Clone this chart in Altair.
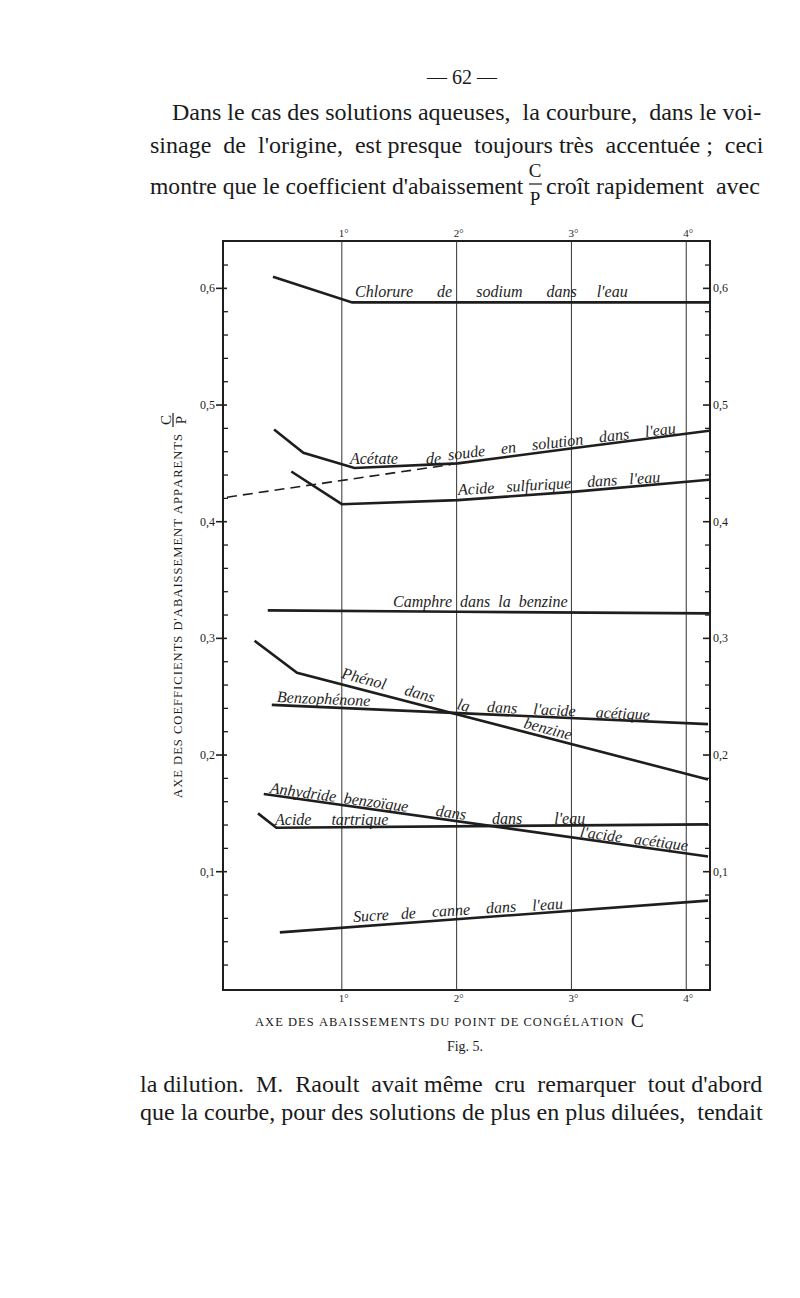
import altair as alt
import pandas as pd

# ---------------- data ----------------
chlorure_x = [0.40, 1.09, 4.20]
chlorure_y = [0.610, 0.588, 0.588]
acetate_x = [0.41, 0.665, 1.11, 2.01, 3.01, 4.20]
acetate_y = [0.479, 0.459, 0.446, 0.450, 0.463, 0.478]
acetate_dash_x = [0.00, 1.95]
acetate_dash_y = [0.421, 0.449]
sulfurique_x = [0.56, 1.00, 2.01, 3.01, 4.20]
sulfurique_y = [0.443, 0.415, 0.4185, 0.4256, 0.436]
camphre_x = [0.355, 2.00, 4.20]
camphre_y = [0.324, 0.3228, 0.3214]
phenol_x = [0.24, 0.61, 4.19]
phenol_y = [0.298, 0.2705, 0.179]
benzophenone_x = [0.39, 4.19]
benzophenone_y = [0.243, 0.2265]
anhydride_x = [0.32, 4.19]
anhydride_y = [0.1666, 0.113]
tartrique_x = [0.27, 0.43, 4.19]
tartrique_y = [0.150, 0.1377, 0.1406]
sucre_x = [0.46, 4.19]
sucre_y = [0.048, 0.0752]

grid_degrees = [1, 2, 3, 4]
degree_labels = ["1°", "2°", "3°", "4°"]
major_ticks = [0.1, 0.2, 0.3, 0.4, 0.5, 0.6]
major_labels = ["0,1", "0,2", "0,3", "0,4", "0,5", "0,6"]
minor_ticks = [0.02, 0.04, 0.06, 0.08, 0.12, 0.14, 0.16, 0.18, 0.22, 0.24,
               0.26, 0.28, 0.32, 0.34, 0.36, 0.38, 0.42, 0.44, 0.46, 0.48,
               0.52, 0.54, 0.56, 0.58, 0.62]

def gap(n):
    return "\u00a0" * n

curve_labels = [
    "Chlorure" + gap(6) + "de" + gap(6) + "sodium" + gap(6) + "dans" + gap(5) + "l'eau",
    "Acétate" + gap(7) + "de",
    "soude" + gap(4) + "en" + gap(4) + "solution" + gap(4) + "dans" + gap(4) + "l'eau",
    "Acide" + gap(3) + "sulfurique" + gap(4) + "dans" + gap(3) + "l'eau",
    "Camphre" + gap(2) + "dans" + gap(2) + "la" + gap(2) + "benzine",
    "Phénol" + gap(5) + "dans" + gap(6) + "la",
    "benzine",
    "Benzophénone",
    "dans" + gap(4) + "l'acide" + gap(5) + "acétique",
    "Anhydride" + gap(2) + "benzoïque" + gap(7) + "dans",
    "l'acide" + gap(3) + "acétique",
    "Acide" + gap(5) + "tartrique",
    "dans" + gap(8) + "l'eau",
    "Sucre" + gap(3) + "de" + gap(4) + "canne" + gap(4) + "dans" + gap(4) + "l'eau",
]
# annotation layout (label anchor in data units, rotation)
label_x = [1.115, 1.071, 1.925, 2.012, 1.446, 1.002, 2.796, 0.436, 2.265, 0.375, 3.075, 0.418, 2.308, 1.098]
label_y = [0.597, 0.4534, 0.457, 0.4271, 0.331, 0.2703, 0.2223, 0.2497, 0.2411, 0.1717, 0.1341, 0.1443, 0.1452, 0.0612]
label_angle = [0, 0, 353.3, 356.4, 0, 15, 15, 2.5, 2.8, 7.8, 7.4, 0, 0, 356.4]
label_align = ["left", "left", "left", "left", "left", "left", "center", "left", "left", "left", "left", "left", "left", "left"]

# ---------------- tables ----------------
series = [
    ("chlorure", chlorure_x, chlorure_y),
    ("acetate", acetate_x, acetate_y),
    ("sulfurique", sulfurique_x, sulfurique_y),
    ("camphre", camphre_x, camphre_y),
    ("phenol", phenol_x, phenol_y),
    ("benzophenone", benzophenone_x, benzophenone_y),
    ("anhydride", anhydride_x, anhydride_y),
    ("tartrique", tartrique_x, tartrique_y),
    ("sucre", sucre_x, sucre_y),
]
rows = []
for name, xs, ys in series:
    for i, (xv, yv) in enumerate(zip(xs, ys)):
        rows.append({"series": name, "order": i, "x": xv, "y": yv})
df_lines = pd.DataFrame(rows)
df_dash = pd.DataFrame({"x": acetate_dash_x, "y": acetate_dash_y, "order": list(range(len(acetate_dash_x)))})
df_grid = pd.DataFrame({"x": grid_degrees, "label": degree_labels})
df_major = pd.DataFrame({"v": major_ticks, "label": major_labels})
df_minor = pd.DataFrame({"v": minor_ticks})
dummy = pd.DataFrame({"d": [0]})

W, H = 487, 749
INK = "#1e1e1e"
SERIF = "Liberation Serif"

xs_ = alt.Scale(domain=[-0.035, 4.207], nice=False, zero=False)
ys_ = alt.Scale(domain=[-0.0014, 0.6406], nice=False, zero=False)
X = lambda f: alt.X(f, scale=xs_, axis=None)
Y = lambda f: alt.Y(f, scale=ys_, axis=None)

layers = []

# vertical grid lines
layers.append(alt.Chart(df_grid).mark_rule(color="#333", strokeWidth=1).encode(
    x=X("x:Q"), y=alt.value(0), y2=alt.value(H)))

# ticks
layers.append(alt.Chart(df_minor).mark_rule(color=INK, strokeWidth=1.3).encode(
    y=Y("v:Q"), x=alt.value(0), x2=alt.value(5)))
layers.append(alt.Chart(df_minor).mark_rule(color=INK, strokeWidth=1.3).encode(
    y=Y("v:Q"), x=alt.value(W - 5), x2=alt.value(W)))
layers.append(alt.Chart(df_major).mark_rule(color=INK, strokeWidth=1.6).encode(
    y=Y("v:Q"), x=alt.value(-7), x2=alt.value(4)))
layers.append(alt.Chart(df_major).mark_rule(color=INK, strokeWidth=1.6).encode(
    y=Y("v:Q"), x=alt.value(W - 7), x2=alt.value(W + 1)))

# tick labels
layers.append(alt.Chart(df_major).mark_text(font=SERIF, fontSize=12, align="right", baseline="middle", color=INK).encode(
    y=Y("v:Q"), x=alt.value(-8), text="label:N"))
layers.append(alt.Chart(df_major).mark_text(font=SERIF, fontSize=12, align="left", baseline="middle", color=INK).encode(
    y=Y("v:Q"), x=alt.value(W + 3), text="label:N"))
layers.append(alt.Chart(df_grid).mark_text(font=SERIF, fontSize=11, align="center", baseline="middle", color=INK, dx=2).encode(
    x=X("x:Q"), y=alt.value(-7), text="label:N"))
layers.append(alt.Chart(df_grid).mark_text(font=SERIF, fontSize=11, align="center", baseline="middle", color=INK, dx=2).encode(
    x=X("x:Q"), y=alt.value(H + 9), text="label:N"))

# curves
layers.append(alt.Chart(df_lines).mark_line(color=INK, strokeWidth=2.6, strokeJoin="miter").encode(
    x=X("x:Q"), y=Y("y:Q"), detail="series:N", order="order:Q"))
layers.append(alt.Chart(df_dash).mark_line(color=INK, strokeWidth=1.6, strokeDash=[10, 6]).encode(
    x=X("x:Q"), y=Y("y:Q"), order="order:Q"))

# curve labels
for t, lx, ly, la, al in zip(curve_labels, label_x, label_y, label_angle, label_align):
    layers.append(alt.Chart(pd.DataFrame({"x": [lx], "y": [ly], "t": [t]})).mark_text(
        font=SERIF, fontStyle="italic", fontSize=16, align=al, baseline="middle", angle=la, color=INK).encode(
        x=X("x:Q"), y=Y("y:Q"), text="t:N"))

# page text (positions in pixels relative to the plot area)
def page_text(txt, px, py, size, align="left", angle=0, style="normal", font=SERIF):
    return alt.Chart(dummy).mark_text(text=txt, font=font, fontSize=size, align=align, baseline="middle",
                                      angle=angle, fontStyle=style, color="#1a1a1a").encode(
        x=alt.value(px), y=alt.value(py))

def spaced(s):
    return "\u200a".join(list(s))

NB = "\u00a0"
layers += [
    page_text("— 62 —", 239, -163, 20, align="center"),
    page_text("Dans le cas des solutions aqueuses," + NB + " la courbure," + NB + " dans le voi-", -51, -128, 24),
    page_text("sinage" + NB + " de" + NB + " l'origine," + NB + " est presque" + NB + " toujours très" + NB + " accentuée ;" + NB + " ceci", -73, -95, 24),
    page_text("montre que le coefficient d'abaissement", -73, -54, 23.6),
    page_text("C", 312, -70, 19, align="center"),
    page_text("P", 312, -42, 19, align="center"),
    page_text("croît rapidement" + NB + " avec", 323, -54, 24),
    page_text(spaced("AXE DES COEFFICIENTS D'ABAISSEMENT APPARENTS"), -45, 375, 12.5, align="center", angle=270),
    page_text("C", -57, 179, 15, align="center", angle=270),
    page_text("P", -42, 179, 15, align="center", angle=270),
    page_text(spaced("AXE DES ABAISSEMENTS DU POINT DE CONGÉLATION"), 32, 781, 12.5),
    page_text("C", 408, 780, 19),
    page_text("Fig. 5.", 242, 806, 14, align="center"),
    page_text("la dilution." + NB + " M." + NB + " Raoult" + NB + " avait même" + NB + " cru" + NB + " remarquer" + NB + " tout d'abord", -83, 844, 24),
    page_text("que la courbe, pour des solutions de plus en plus diluées," + NB + " tendait", -83, 872, 24),
]
# fraction bars
layers.append(alt.Chart(dummy).mark_rule(color="#1a1a1a", strokeWidth=1.2).encode(
    x=alt.value(306), x2=alt.value(319), y=alt.value(-57)))
layers.append(alt.Chart(dummy).mark_rule(color="#1a1a1a", strokeWidth=1.2).encode(
    x=alt.value(-50), y=alt.value(172), y2=alt.value(186)))

chart = alt.layer(*layers).properties(
    width=W, height=H,
    padding={"left": 215, "top": 233, "right": 82, "bottom": 300},
    autosize=alt.AutoSizeParams(type="none"),
    background="#ffffff",
).configure_view(stroke=INK, strokeWidth=2)

chart.save("out.html", embed_options={"renderer": "svg", "actions": False})
